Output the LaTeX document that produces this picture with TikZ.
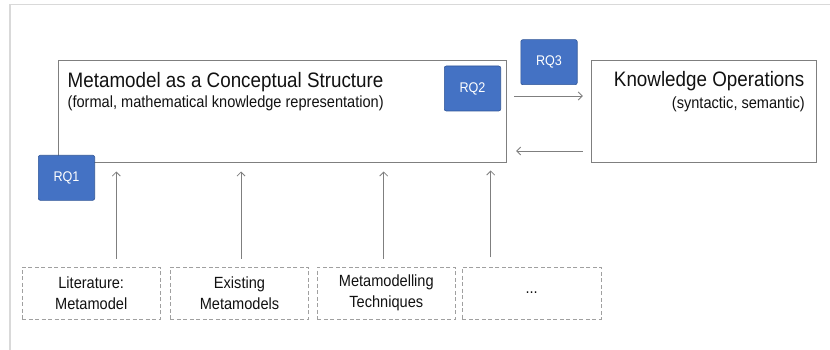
\documentclass[tikz,border=0pt]{standalone}
\usepackage{fontspec}
\setmainfont{Liberation Sans}[FakeStretch=0.9]
\usetikzlibrary{arrows.meta}
\definecolor{rqblue}{HTML}{4472C4}
\definecolor{rqedge}{HTML}{2F5597}
\definecolor{boxgray}{HTML}{7F7F7F}
\definecolor{dashgray}{HTML}{A0A0A0}
\definecolor{framegray}{HTML}{D9D9D9}
\definecolor{txt}{HTML}{111111}
\begin{document}
\begin{tikzpicture}[x=1pt,y=-1pt,
  bigbox/.style={draw=boxgray, line width=0.9pt, minimum width=448pt, minimum height=102.3pt, inner sep=0pt},
  titletext/.style={inner sep=0pt, text=txt, font=\fontsize{20.9}{25}\selectfont},
  subtext/.style={inner sep=0pt, text=txt, font=\fontsize{16.2}{20}\selectfont},
  rq/.style={fill=rqblue, draw=rqedge, line width=0.6pt, rounded corners=2pt, minimum width=56.4pt, minimum height=45pt, inner sep=0pt, text=white, font=\fontsize{14}{16}\selectfont},
  src/.style={draw=dashgray, dash pattern=on 4pt off 2.5pt, line width=0.9pt, minimum width=138.3pt, minimum height=52pt, inner sep=0pt, align=center, text=txt, font=\fontsize{16.2}{20.7}\selectfont},
  arr/.style={draw=boxgray, line width=0.8pt, -{Straight Barb[length=4pt,width=8pt]}}
]
\useasboundingbox (0,0) rectangle (830,350);
\draw[framegray, line width=1.5pt] (10,350) -- (10,4.5) -- (830,4.5);

% main boxes
\node[bigbox] (main) at (282.3,111.2) {};
\node[bigbox, minimum width=224.7pt] (ko) at (703.6,111.2) {};
\node[titletext, anchor=base west] (mtitle) at (67.5,87.3) {Metamodel as a Conceptual Structure};
\node[subtext, anchor=base west] (msub) at (67.5,108) {(formal, mathematical knowledge representation)};
\node[titletext, anchor=base east] (kotitle) at (804.5,86.7) {Knowledge Operations};
\node[subtext, anchor=base east] (kosub) at (805,109) {(syntactic, semantic)};

% source boxes
\node[src] (b1) at (91.2,293) {Literature:\\Metamodel};
\node[src] (b2) at (239.5,293) {Existing\\Metamodels};
\node[src, minimum width=138pt] (b3) at (386.3,293) {Metamodelling\\Techniques};
\node[src, minimum width=138.7pt] (b4) at (531.7,293) {...};

% arrows
\draw[arr, shorten <=7.7pt, shorten >=8.7pt] ([xshift=25.1pt]b1.north) -- ([xshift=25.1pt]b1.north |- main.south);
\draw[arr, shorten <=7.7pt, shorten >=8.7pt] ([xshift=1.5pt]b2.north) -- ([xshift=1.5pt]b2.north |- main.south);
\draw[arr, shorten <=7.7pt, shorten >=8.7pt] ([xshift=-2.6pt]b3.north) -- ([xshift=-2.6pt]b3.north |- main.south);
\draw[arr, shorten <=9.3pt, shorten >=7.7pt] ([xshift=-41pt]b4.north) -- ([xshift=-41pt]b4.north |- main.south);
\draw[arr, shorten <=7.4pt, shorten >=8pt] ([yshift=15.2pt]main.east) -- ([yshift=15.2pt]main.east -| ko.west);
\draw[arr, shorten <=8pt, shorten >=9.4pt] ([yshift=-39.8pt]ko.west) -- ([yshift=-39.8pt]ko.west -| main.east);

% research questions
\node[rq] (rq1) at (66.5,177.8) {RQ1};
\node[rq] (rq2) at (472.5,88.5) {RQ2};
\node[rq] (rq3) at (549,62.2) {RQ3};
\end{tikzpicture}
\end{document}
